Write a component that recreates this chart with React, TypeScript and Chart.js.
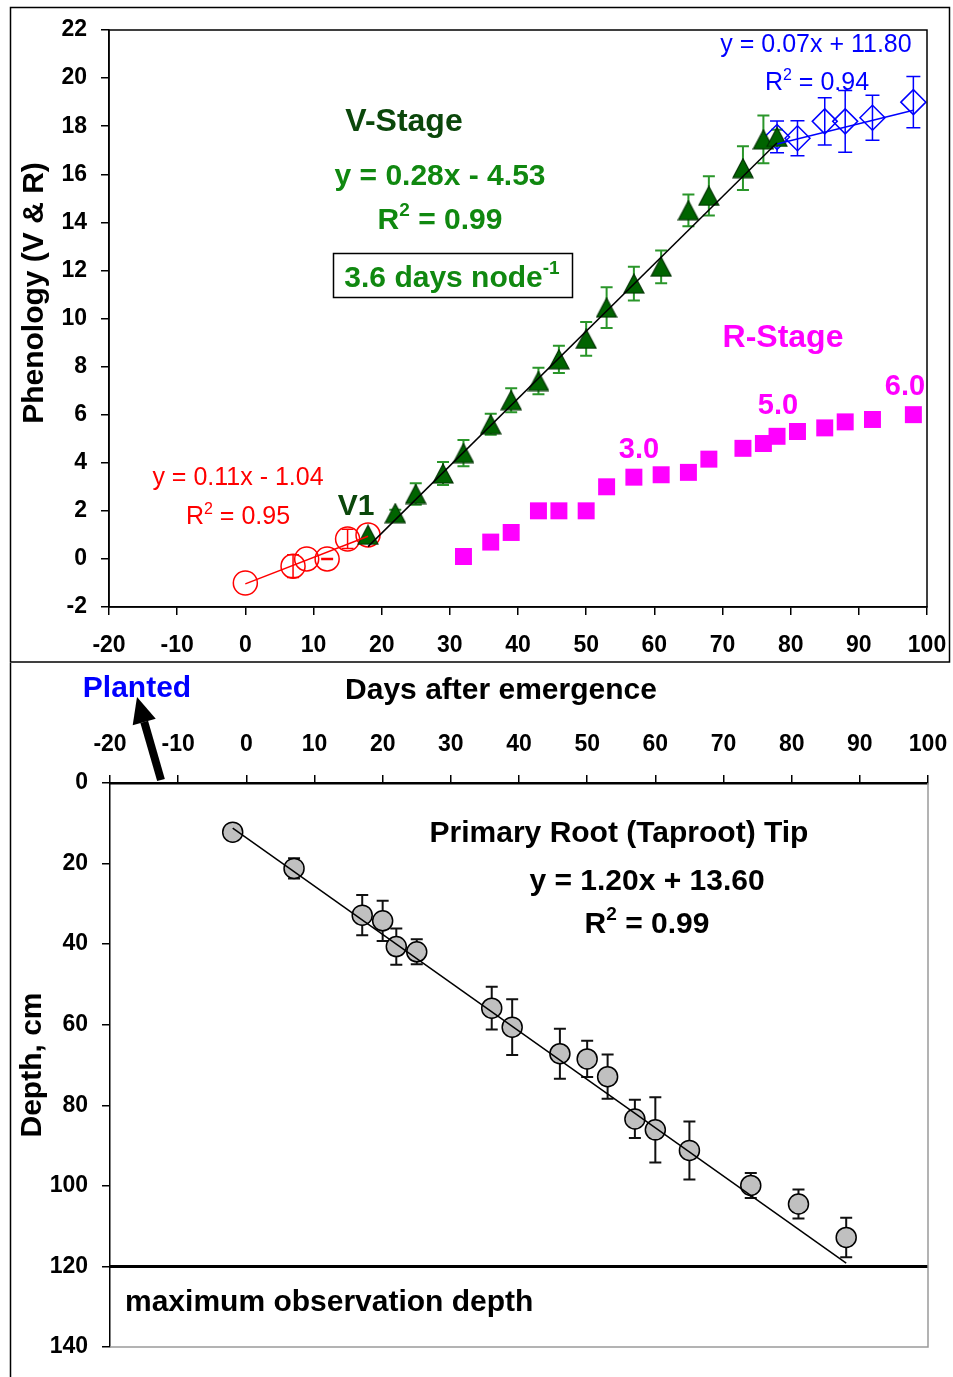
import React, { useEffect, useRef } from "react";
import { Chart, registerables } from "chart.js";

Chart.register(...registerables);

const FAMILY = "'Liberation Sans', Arial, Helvetica, sans-serif";

const W = 953;
const TOP_H = 663;
const BOTTOM_H = 714;

// Axis ranges
const DAY_MIN = -20;
const DAY_MAX = 100;
const DAY_STEP = 10;
const STAGE_MIN = -2;
const STAGE_MAX = 22;
const STAGE_STEP = 2;
const DEPTH_MIN = 0;
const DEPTH_MAX = 140;
const DEPTH_STEP = 20;
const MAX_OBS_DEPTH = 120;

// Emergence to V1 (red circles)
const preDays = [0, 7, 9, 12, 15, 18];
const preStage = [-1.0, -0.3, 0.0, 0.0, 0.83, 1.0];
const preErr = [0, 0.47, 0, 0.02, 0.4, 0];

// V-stages (green triangles)
const vDays = [18, 22, 25, 29, 32, 36, 39, 43, 46, 50, 53, 57, 61, 65, 68, 73, 76, 78];
const vStage = [1.0, 1.9, 2.7, 3.55, 4.4, 5.6, 6.6, 7.4, 8.3, 9.15, 10.45, 11.45, 12.15, 14.5, 15.1, 16.25, 17.45, 17.55];
const vErr = [0, 0.15, 0.45, 0.48, 0.55, 0.44, 0.5, 0.55, 0.57, 0.7, 0.85, 0.7, 0.68, 0.66, 0.82, 0.91, 0.99, 0.3];

// Late V-stages (blue diamonds)
const lateDays = [78, 81, 85, 88, 92, 98];
const lateStage = [17.55, 17.5, 18.2, 18.2, 18.35, 19.0];
const lateErr = [0.66, 0.73, 0.98, 1.28, 0.94, 1.07];

// R-stages (magenta squares)
const rDays = [32, 36, 39, 43, 46, 50, 53, 57, 61, 65, 68, 73, 76, 78, 81, 85, 88, 92, 98];
const rStage = [0.1, 0.7, 1.1, 2.0, 2.0, 2.0, 3.0, 3.4, 3.5, 3.6, 4.15, 4.6, 4.8, 5.1, 5.3, 5.45, 5.7, 5.8, 6.0];

// Taproot tip depth (cm)
const rootDays = [-2, 7, 17, 20, 22, 25, 36, 39, 46, 50, 53, 57, 60, 65, 74, 81, 88];
const rootDepth = [12.2, 21.2, 32.8, 34.2, 40.6, 41.9, 55.9, 60.6, 67.2, 68.5, 72.9, 83.4, 86.1, 91.2, 99.9, 104.5, 112.8];
const rootErr = [0, 2.5, 5.0, 5.0, 4.5, 3.1, 5.3, 6.9, 6.2, 4.5, 5.5, 4.75, 8.1, 7.2, 3.1, 3.6, 4.9];

// Regression lines (slope, intercept) and their R²
const preFit = [0.11, -1.04];
const vFit = [0.28, -4.53];
const lateFit = [0.07, 11.8];
const rootFit = [1.2, 13.6];
const preR2 = 0.95;
const vR2 = 0.99;
const lateR2 = 0.94;
const rootR2 = 0.99;

// Text
const TOP_Y_TITLE = "Phenology (V & R)";
const BOTTOM_Y_TITLE = "Depth, cm";
const X_TITLE = "Days after emergence";
const PLANTED = "Planted";
const V_TITLE = "V-Stage";
const RATE_TEXT = "3.6 days node";
const RATE_SUP = "-1";
const V1_TEXT = "V1";
const R_TITLE = "R-Stage";
const R_MARKS = [
  { text: "3.0", x: 639, y: 458 },
  { text: "5.0", x: 778, y: 414 },
  { text: "6.0", x: 905, y: 395 },
];
const ROOT_TITLE = "Primary Root (Taproot) Tip";
const MAX_DEPTH_TEXT = "maximum observation depth";

const pts = (xs: number[], ys: number[]) => xs.map((x, i) => ({ x, y: ys[i] }));

const eqText = (fit: number[]) =>
  `y = ${fit[0].toFixed(2)}x ${fit[1] < 0 ? "-" : "+"} ${Math.abs(fit[1]).toFixed(2)}`;
const r2Text = (r2: number) => ` = ${r2.toFixed(2)}`;

// Regression segment spanning the series' x range
function trend(fit: number[], xs: number[]) {
  const x0 = Math.min(...xs);
  const x1 = Math.max(...xs);
  return [
    { x: x0, y: fit[0] * x0 + fit[1] },
    { x: x1, y: fit[0] * x1 + fit[1] },
  ];
}

const font = (size: number, bold: boolean) => `${bold ? "bold " : ""}${size}px ${FAMILY}`;

type Run = { text: string; sup?: boolean };

function drawRuns(
  ctx: CanvasRenderingContext2D,
  runs: Run[],
  x: number,
  baseline: number,
  size: number,
  bold: boolean,
  color: string,
  align: "center" | "left" = "center"
) {
  const supSize = Math.round(size * 0.62);
  const widthOf = (r: Run) => {
    ctx.font = font(r.sup ? supSize : size, bold);
    return ctx.measureText(r.text).width;
  };
  const total = runs.reduce((s, r) => s + widthOf(r), 0);
  let cx = align === "center" ? x - total / 2 : x;
  ctx.fillStyle = color;
  ctx.textAlign = "left";
  ctx.textBaseline = "alphabetic";
  runs.forEach((r) => {
    const w = widthOf(r);
    ctx.font = font(r.sup ? supSize : size, bold);
    ctx.fillText(r.text, cx, r.sup ? baseline - size * 0.42 : baseline);
    cx += w;
  });
}

function drawRotated(ctx: CanvasRenderingContext2D, text: string, x: number, y: number, size: number) {
  ctx.save();
  ctx.translate(x, y);
  ctx.rotate(-Math.PI / 2);
  ctx.font = font(size, true);
  ctx.fillStyle = "#000";
  ctx.textAlign = "center";
  ctx.textBaseline = "middle";
  ctx.fillText(text, 0, 0);
  ctx.restore();
}

// Vertical error bars behind the markers
const errorBars = {
  id: "errorBars",
  beforeDatasetsDraw(chart: any) {
    const ctx = chart.ctx as CanvasRenderingContext2D;
    const ys = chart.scales.y;
    chart.data.datasets.forEach((ds: any, i: number) => {
      if (!ds.errors) return;
      const meta = chart.getDatasetMeta(i);
      ctx.save();
      ctx.strokeStyle = ds.errorColor;
      ctx.lineWidth = ds.errorWidth;
      const cap = ds.errorCap;
      meta.data.forEach((el: any, j: number) => {
        const e = ds.errors[j];
        if (!e) return;
        const v = ds.data[j].y;
        const t = ys.getPixelForValue(v + e);
        const b = ys.getPixelForValue(v - e);
        const x = el.x;
        ctx.beginPath();
        ctx.moveTo(x, t);
        ctx.lineTo(x, b);
        ctx.moveTo(x - cap, t);
        ctx.lineTo(x + cap, t);
        ctx.moveTo(x - cap, b);
        ctx.lineTo(x + cap, b);
        ctx.stroke();
      });
      ctx.restore();
    });
  },
};

const phenologyNotes = {
  id: "phenologyNotes",
  afterDraw(chart: any) {
    const ctx = chart.ctx as CanvasRenderingContext2D;
    const a = chart.chartArea;
    ctx.save();
    ctx.strokeStyle = "#000";
    ctx.lineWidth = 1.5;
    ctx.strokeRect(a.left, a.top, a.right - a.left, a.bottom - a.top);
    ctx.strokeRect(10.5, 7.5, 939, 654.5);

    drawRotated(ctx, TOP_Y_TITLE, 35, 293, 30);

    const dark = "#0b470b";
    const green = "#108810";
    drawRuns(ctx, [{ text: V_TITLE }], 404, 131, 32, true, dark);
    drawRuns(ctx, [{ text: eqText(vFit) }], 440, 185, 30, true, green);
    drawRuns(ctx, [{ text: "R" }, { text: "2", sup: true }, { text: r2Text(vR2) }], 440, 229, 30, true, green);
    ctx.strokeStyle = "#000";
    ctx.lineWidth = 1.5;
    ctx.strokeRect(333.5, 253.5, 239, 44);
    drawRuns(ctx, [{ text: RATE_TEXT }, { text: RATE_SUP, sup: true }], 452, 287, 30, true, green);
    drawRuns(ctx, [{ text: V1_TEXT }], 356, 515, 30, true, dark);

    drawRuns(ctx, [{ text: eqText(preFit) }], 238, 485, 25, false, "#ff0000");
    drawRuns(ctx, [{ text: "R" }, { text: "2", sup: true }, { text: r2Text(preR2) }], 238, 524, 25, false, "#ff0000");

    drawRuns(ctx, [{ text: eqText(lateFit) }], 816, 52, 25, false, "#0000ff");
    drawRuns(ctx, [{ text: "R" }, { text: "2", sup: true }, { text: r2Text(lateR2) }], 817, 90, 25, false, "#0000ff");

    drawRuns(ctx, [{ text: R_TITLE }], 783, 347, 32, true, "#ff00ff");
    R_MARKS.forEach((m) => drawRuns(ctx, [{ text: m.text }], m.x, m.y, 29, true, "#ff00ff"));
    ctx.restore();
  },
};

const rootNotes = {
  id: "rootNotes",
  afterDraw(chart: any) {
    const ctx = chart.ctx as CanvasRenderingContext2D;
    const a = chart.chartArea;
    ctx.save();
    // light plot border on the right and bottom
    ctx.strokeStyle = "#9a9a9a";
    ctx.lineWidth = 1.5;
    ctx.beginPath();
    ctx.moveTo(a.right, a.top);
    ctx.lineTo(a.right, a.bottom);
    ctx.lineTo(a.left, a.bottom);
    ctx.stroke();
    // panel edge
    ctx.strokeStyle = "#000";
    ctx.beginPath();
    ctx.moveTo(10.5, 0);
    ctx.lineTo(10.5, BOTTOM_H);
    ctx.stroke();

    drawRotated(ctx, BOTTOM_Y_TITLE, 33, 402, 30);
    drawRuns(ctx, [{ text: PLANTED }], 137, 34, 30, true, "#0000ff");
    drawRuns(ctx, [{ text: X_TITLE }], 501, 36, 30, true, "#000");

    // arrow pointing to planting date
    const tail = { x: 161, y: 117 };
    const tip = { x: 137, y: 34 };
    const ang = Math.atan2(tip.y - tail.y, tip.x - tail.x);
    const c = Math.cos(ang);
    const s = Math.sin(ang);
    const headLen = 26;
    const headW = 12;
    const bx = tip.x - headLen * c;
    const by = tip.y - headLen * s;
    ctx.strokeStyle = "#000";
    ctx.fillStyle = "#000";
    ctx.lineWidth = 8;
    ctx.beginPath();
    ctx.moveTo(tail.x, tail.y);
    ctx.lineTo(bx, by);
    ctx.stroke();
    ctx.beginPath();
    ctx.moveTo(tip.x, tip.y);
    ctx.lineTo(bx - headW * s, by + headW * c);
    ctx.lineTo(bx + headW * s, by - headW * c);
    ctx.closePath();
    ctx.fill();

    drawRuns(ctx, [{ text: ROOT_TITLE }], 619, 179, 30, true, "#000");
    drawRuns(ctx, [{ text: eqText(rootFit) }], 647, 227, 30, true, "#000");
    drawRuns(ctx, [{ text: "R" }, { text: "2", sup: true }, { text: r2Text(rootR2) }], 647, 270, 30, true, "#000");
    drawRuns(ctx, [{ text: MAX_DEPTH_TEXT }], 125, 648, 30, true, "#000", "left");
    ctx.restore();
  },
};

function makeTriangle(): HTMLCanvasElement {
  const c = document.createElement("canvas");
  c.width = 22;
  c.height = 21;
  const g = c.getContext("2d")!;
  g.beginPath();
  g.moveTo(11, 1);
  g.lineTo(21, 20);
  g.lineTo(1, 20);
  g.closePath();
  g.fillStyle = "#006400";
  g.fill();
  g.strokeStyle = "#003200";
  g.lineWidth = 1.2;
  g.stroke();
  return c;
}

const tickFont = { family: FAMILY, size: 23, weight: "bold" as const };

function axisGrid() {
  return {
    display: true,
    drawOnChartArea: false,
    drawTicks: true,
    tickLength: 8,
    color: "#000",
    lineWidth: 1.5,
  };
}

// fixed axis box sizes, no extra label overflow padding
const fixHeight = (h: number) => (s: any) => {
  s.height = h;
  s.paddingLeft = 0;
  s.paddingRight = 0;
  s.paddingTop = 0;
  s.paddingBottom = 0;
};
const fixWidth = (w: number) => (s: any) => {
  s.width = w;
  s.paddingLeft = 0;
  s.paddingRight = 0;
  s.paddingTop = 0;
  s.paddingBottom = 0;
};

export default function App() {
  const topRef = useRef<HTMLCanvasElement>(null);
  const botRef = useRef<HTMLCanvasElement>(null);

  useEffect(() => {
    document.body.style.margin = "0";
    const tri = makeTriangle();

    const top = new Chart(topRef.current!, {
      type: "scatter",
      data: {
        datasets: [
          { data: trend(vFit, vDays), showLine: true, pointRadius: 0, borderColor: "#000", borderWidth: 1.5, order: 0 },
          { data: trend(preFit, preDays), showLine: true, pointRadius: 0, borderColor: "#ff0000", borderWidth: 1.5, order: 0 },
          { data: trend(lateFit, lateDays), showLine: true, pointRadius: 0, borderColor: "#0000ff", borderWidth: 1.5, order: 0 },
          {
            data: pts(rDays, rStage),
            pointStyle: "rect",
            pointRadius: 12,
            backgroundColor: "#ff00ff",
            borderColor: "#ff00ff",
            borderWidth: 0,
            order: 5,
            clip: false,
          },
          {
            data: pts(lateDays, lateStage),
            pointStyle: "rectRot",
            pointRadius: 12.5,
            backgroundColor: "rgba(0,0,0,0)",
            borderColor: "#0000ff",
            borderWidth: 1.5,
            order: 4,
            clip: false,
            errors: lateErr,
            errorColor: "#0000ff",
            errorWidth: 1.5,
            errorCap: 7,
          } as any,
          {
            data: pts(preDays, preStage),
            pointStyle: "circle",
            pointRadius: 12,
            backgroundColor: "rgba(0,0,0,0)",
            borderColor: "#ff0000",
            borderWidth: 1.5,
            order: 4,
            clip: false,
            errors: preErr,
            errorColor: "#ff0000",
            errorWidth: 1.5,
            errorCap: 6,
          } as any,
          {
            data: pts(vDays, vStage),
            pointStyle: tri,
            pointRadius: 10,
            order: 3,
            clip: false,
            errors: vErr,
            errorColor: "#2a962a",
            errorWidth: 2,
            errorCap: 6,
          } as any,
        ],
      },
      options: {
        responsive: false,
        animation: false,
        devicePixelRatio: 1,
        events: [],
        layout: { padding: { left: 0, top: 30, right: 26, bottom: 0 } },
        plugins: { legend: { display: false }, tooltip: { enabled: false } },
        scales: {
          x: {
            type: "linear",
            min: DAY_MIN,
            max: DAY_MAX,
            ticks: { stepSize: DAY_STEP, font: tickFont, color: "#000", padding: 17, maxRotation: 0, autoSkip: false },
            grid: axisGrid(),
            border: { display: true, color: "#000", width: 1.5 },
            afterFit: fixHeight(56),
          },
          y: {
            type: "linear",
            min: STAGE_MIN,
            max: STAGE_MAX,
            ticks: { stepSize: STAGE_STEP, font: tickFont, color: "#000", padding: 14, autoSkip: false },
            grid: axisGrid(),
            border: { display: true, color: "#000", width: 1.5 },
            afterFit: fixWidth(109),
          },
        },
      },
      plugins: [errorBars, phenologyNotes],
    } as any);

    const bot = new Chart(botRef.current!, {
      type: "scatter",
      data: {
        datasets: [
          { data: trend(rootFit, rootDays), showLine: true, pointRadius: 0, borderColor: "#000", borderWidth: 1.5, order: 0 },
          {
            data: [
              { x: DAY_MIN, y: MAX_OBS_DEPTH },
              { x: DAY_MAX, y: MAX_OBS_DEPTH },
            ],
            showLine: true,
            pointRadius: 0,
            borderColor: "#000",
            borderWidth: 3,
            order: 0,
          },
          {
            data: pts(rootDays, rootDepth),
            pointStyle: "circle",
            pointRadius: 10,
            backgroundColor: "#c0c0c0",
            borderColor: "#000",
            borderWidth: 1.5,
            order: 2,
            clip: false,
            errors: rootErr,
            errorColor: "#111",
            errorWidth: 2,
            errorCap: 6,
          } as any,
        ],
      },
      options: {
        responsive: false,
        animation: false,
        devicePixelRatio: 1,
        events: [],
        layout: { padding: { left: 0, top: 0, right: 25, bottom: 30 } },
        plugins: { legend: { display: false }, tooltip: { enabled: false } },
        scales: {
          x: {
            type: "linear",
            position: "top",
            min: DAY_MIN,
            max: DAY_MAX,
            ticks: { stepSize: DAY_STEP, font: tickFont, color: "#000", padding: 17, maxRotation: 0, autoSkip: false },
            grid: axisGrid(),
            border: { display: true, color: "#000", width: 2.5 },
            afterFit: fixHeight(120),
          },
          y: {
            type: "linear",
            reverse: true,
            min: DEPTH_MIN,
            max: DEPTH_MAX,
            ticks: { stepSize: DEPTH_STEP, font: tickFont, color: "#000", padding: 14, autoSkip: false },
            grid: axisGrid(),
            border: { display: true, color: "#000", width: 1.5 },
            afterFit: fixWidth(110),
          },
        },
      },
      plugins: [errorBars, rootNotes],
    } as any);

    return () => {
      top.destroy();
      bot.destroy();
    };
  }, []);

  return (
    <div style={{ position: "absolute", left: 0, top: 0, width: W, height: TOP_H + BOTTOM_H, background: "#fff" }}>
      <canvas ref={topRef} width={W} height={TOP_H} style={{ display: "block" }} />
      <canvas ref={botRef} width={W} height={BOTTOM_H} style={{ display: "block" }} />
    </div>
  );
}
